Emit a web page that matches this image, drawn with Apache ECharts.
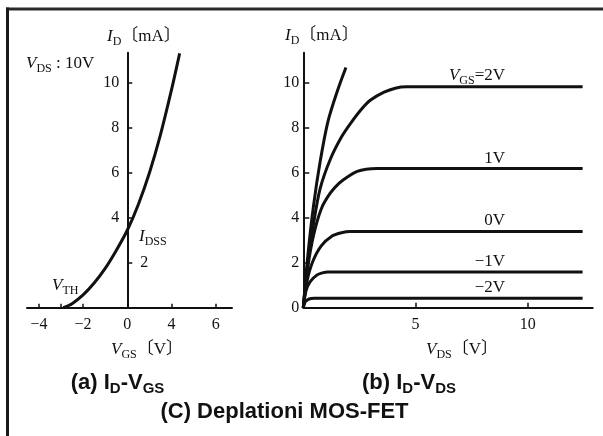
<!DOCTYPE html>
<html><head><meta charset="utf-8">
<script src="https://cdn.jsdelivr.net/npm/echarts@6/dist/echarts.min.js"></script>
<style>html,body{margin:0;padding:0;background:#fff}#c{width:603px;height:436px}</style>
</head><body><div id="c"></div>
<script>
// ---------- Panel (a): I_D vs V_GS (x given in plotted axis units) ----------
const vgsA = [-2.9, -2.5, -2.0, -1.5, -1.0, -0.5, 0, 0.5, 1.0, 1.5, 2.0, 2.37];
const idA  = [0, 0.18, 0.57, 1.1, 1.75, 2.55, 3.45, 4.6, 6.0, 7.7, 9.7, 11.33];
const xTicksA = [-4, -2, 0, 2, 4];
const xTickLabelsA = ['−4', '−2', '0', '4', '6'];
const vthTickA = [-3];
const yTicksA = [2, 4, 6, 8, 10];
const yLabelsLeftA = [4, 6, 8, 10];
const yLabelsRightA = [2];

// ---------- Panel (b): I_D vs V_DS ----------
const vdsSteep = [0, 0.2, 0.45, 0.75, 1.1, 1.5, 1.9];
const idSteep  = [0, 2.3, 4.5, 6.5, 8.3, 9.6, 10.7];
const vds2V = [0, 0.2, 0.45, 0.75, 1.2, 1.7, 2.1, 2.6, 3.0, 3.6, 4.1, 4.6, 5.2, 12.45];
const id2V  = [0, 2.0, 3.7, 5.3, 6.6, 7.6, 8.2, 8.85, 9.25, 9.6, 9.78, 9.84, 9.84, 9.84];
const vds1V = [0, 0.2, 0.45, 0.8, 1.2, 1.6, 2.0, 2.4, 2.8, 3.3, 12.45];
const id1V  = [0, 1.8, 3.2, 4.4, 5.1, 5.55, 5.85, 6.07, 6.17, 6.2, 6.2];
const vds0V = [0, 0.15, 0.4, 0.8, 1.3, 1.7, 2.1, 2.6, 12.45];
const id0V  = [0, 1.1, 2.0, 2.75, 3.2, 3.34, 3.39, 3.39, 3.39];
const vdsM1V = [0, 0.12, 0.3, 0.6, 0.85, 1.1, 1.5, 12.45];
const idM1V  = [0, 0.75, 1.15, 1.45, 1.55, 1.59, 1.59, 1.59];
const vdsM2V = [0, 0.08, 0.2, 0.35, 0.5, 0.8, 12.45];
const idM2V  = [0, 0.25, 0.36, 0.41, 0.42, 0.42, 0.42];
const xTicksB = [5, 10];
const yTicksB = [2, 4, 6, 8, 10];
const yLabelsB = [0, 2, 4, 6, 8, 10];

const SERIF = "'Liberation Serif','Noto Sans CJK JP',serif";
const SANS = "'Liberation Sans',Arial,sans-serif";
const INK = '#111';

const zip = (xs, ys) => xs.map((x, i) => [x, ys[i]]);
const lineSeries = (xi, yi, xs, ys) => ({
  type: 'line', xAxisIndex: xi, yAxisIndex: yi, data: zip(xs, ys),
  showSymbol: false, smooth: 0.3,
  lineStyle: { color: INK, width: 3 }, silent: true
});
const near = (arr, v) => arr.findIndex(a => Math.abs(a - v) < 1e-6);

const axisLineStyle = { color: INK, width: 2 };
const labelStyle = { color: INK, fontSize: 16, fontFamily: SERIF };

// rich text helpers
const rMain = { fontFamily: SERIF, fontSize: 17, fill: INK, lineHeight: 22 };
const rIt = { fontFamily: SERIF, fontSize: 17, fontStyle: 'italic', fill: INK, lineHeight: 22 };
const rSub = { fontFamily: SERIF, fontSize: 12, fill: INK, verticalAlign: 'bottom' };
const richSerif = { i: rIt, s: rSub, n: rMain };
const rCapMain = { fontFamily: SANS, fontSize: 22, fontWeight: 'bold', fill: INK, lineHeight: 26 };
const rCapSmall = { fontFamily: SANS, fontSize: 15, fontWeight: 'bold', fill: INK, lineHeight: 23.5, verticalAlign: 'bottom' };
const richCap = { m: rCapMain, k: rCapSmall };

function txt(x, y, text, rich, align) {
  return { type: 'text', x: x, y: y, silent: true,
    style: { text: text, rich: rich, fill: INK, align: align || 'left', verticalAlign: 'middle',
             textAlign: align || 'left', textVerticalAlign: 'middle' } };
}

const xMinA = -4.54, xMaxA = 4.74, gridWA = 205;
// distance of x=0 from the grid's left and right edges (axis placement at V_GS = 0)
const zeroFromLeft = (0 - xMinA) / (xMaxA - xMinA) * gridWA;
const zeroFromRight = (xMaxA - 0) / (xMaxA - xMinA) * gridWA;

const option = {
  animation: false,
  backgroundColor: '#fff',
  grid: [
    { left: 27, top: 52.7, width: gridWA, height: 255 },
    { left: 303.3, top: 52.7, width: 289.4, height: 255 }
  ],
  xAxis: [
    { gridIndex: 0, type: 'value', min: xMinA, max: xMaxA,
      axisLine: { onZero: false, lineStyle: axisLineStyle },
      axisTick: { show: true, inside: true, length: 4, customValues: xTicksA.concat(vthTickA), lineStyle: { color: INK, width: 1.5 } },
      axisLabel: Object.assign({ customValues: xTicksA, margin: 9,
        formatter: v => { const k = near(xTicksA, v); return k < 0 ? '' : xTickLabelsA[k]; } }, labelStyle),
      splitLine: { show: false } },
    { gridIndex: 1, type: 'value', min: 0, max: 12.9,
      axisLine: { onZero: false, lineStyle: axisLineStyle },
      axisTick: { show: true, inside: true, length: 5, customValues: xTicksB, lineStyle: { color: INK, width: 1.5 } },
      axisLabel: Object.assign({ customValues: xTicksB, margin: 9 }, labelStyle),
      splitLine: { show: false } }
  ],
  yAxis: [
    { gridIndex: 0, type: 'value', min: 0, max: 11.36, position: 'left',
      offset: -zeroFromLeft,
      axisLine: { show: true, onZero: false, lineStyle: axisLineStyle },
      axisTick: { show: true, inside: true, length: 5, customValues: yTicksA, lineStyle: { color: INK, width: 1.5 } },
      axisLabel: Object.assign({ customValues: yLabelsLeftA, margin: 8 }, labelStyle),
      splitLine: { show: false } },
    { gridIndex: 0, type: 'value', min: 0, max: 11.36, position: 'right',
      offset: -zeroFromRight,
      axisLine: { show: false, onZero: false },
      axisTick: { show: false },
      axisLabel: Object.assign({ customValues: yLabelsRightA, margin: 13 }, labelStyle),
      splitLine: { show: false } },
    { gridIndex: 1, type: 'value', min: 0, max: 11.36,
      axisLine: { show: true, onZero: false, lineStyle: axisLineStyle },
      axisTick: { show: true, inside: true, length: 6, customValues: yTicksB, lineStyle: { color: INK, width: 1.5 } },
      axisLabel: Object.assign({ customValues: yLabelsB, margin: 4 }, labelStyle),
      splitLine: { show: false } }
  ],
  series: [
    lineSeries(0, 0, vgsA, idA),
    lineSeries(1, 2, vdsSteep, idSteep),
    lineSeries(1, 2, vds2V, id2V),
    lineSeries(1, 2, vds1V, id1V),
    lineSeries(1, 2, vds0V, id0V),
    lineSeries(1, 2, vdsM1V, idM1V),
    lineSeries(1, 2, vdsM2V, idM2V)
  ],
  graphic: { elements: [
    { type: 'line', silent: true, shape: { x1: 6, y1: 9, x2: 603, y2: 9 }, style: { stroke: '#2a2a2a', lineWidth: 3 } },
    { type: 'line', silent: true, shape: { x1: 7.5, y1: 7.5, x2: 7.5, y2: 436 }, style: { stroke: '#1a1a1a', lineWidth: 3 } },
    txt(107, 37, '{i|I}{s|D}{n|〔mA〕}', richSerif),
    txt(285, 36, '{i|I}{s|D}{n|〔mA〕}', richSerif),
    txt(26, 64, '{i|V}{s|DS}{n| : 10V}', richSerif),
    txt(52, 286, '{i|V}{s|TH}', richSerif),
    txt(139, 237, '{i|I}{s|DSS}', richSerif),
    txt(111, 350, '{i|V}{s|GS}{n|〔V〕}', richSerif),
    txt(426, 350, '{i|V}{s|DS}{n|〔V〕}', richSerif),
    txt(505, 76, '{i|V}{s|GS}{n|=2V}', richSerif, 'right'),
    txt(505, 159, '{n|1V}', richSerif, 'right'),
    txt(505, 221, '{n|0V}', richSerif, 'right'),
    txt(505, 262, '{n|−1V}', richSerif, 'right'),
    txt(505, 288, '{n|−2V}', richSerif, 'right'),
    txt(117.5, 383, '{m|(a) I}{k|D}{m|-V}{k|GS}', richCap, 'center'),
    txt(409, 383, '{m|(b) I}{k|D}{m|-V}{k|DS}', richCap, 'center'),
    txt(284.5, 412, '{m|(C) Deplationi MOS-FET}', richCap, 'center')
  ] }
};

const chart = echarts.init(document.getElementById('c'), null, { renderer: 'canvas' });
chart.setOption(option);
</script>
</body></html>
